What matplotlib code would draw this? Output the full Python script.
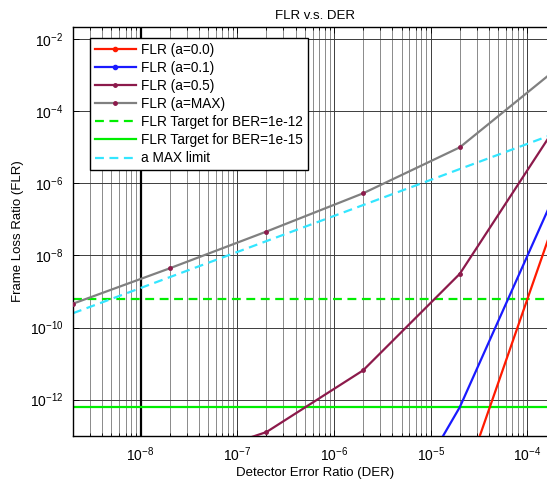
import matplotlib
matplotlib.use('Agg')
import matplotlib.pyplot as plt
from matplotlib.ticker import FixedLocator, LogLocator, LogFormatterSciNotation, NullFormatter

plt.rcParams['font.family'] = ['Liberation Sans', 'DejaVu Sans']
plt.rcParams['mathtext.fontset'] = 'custom'
plt.rcParams['mathtext.rm'] = 'Liberation Sans'
plt.rcParams['mathtext.it'] = 'Liberation Sans'

# Data
der = [2e-9, 2e-8, 2e-7, 2e-6, 2e-5, 2e-4]
flr_a00 = [None, None, None, None, 2.5e-15, 1.3e-7]
flr_a01 = [None, None, None, 1.5e-17, 6.2e-13, 6.3e-7]
flr_a05 = [None, 1.6e-14, 1.26e-13, 6.5e-12, 3.1e-9, 4.0e-5]
flr_amax = [4.6e-10, 4.4e-9, 4.6e-8, 5.3e-7, 1.0e-5, 1.5e-3]
limit_x = [2e-9, 2e-4]
limit_y = [2.5e-10, 2.5e-5]
target_1e12 = 6.2e-10
target_1e15 = 6.2e-13

maroon = '#8c1a4b'


def pts(ys):
    xs = [x for x, y in zip(der, ys) if y is not None]
    return xs, [y for y in ys if y is not None]


fig = plt.figure(figsize=(5.47, 4.80), dpi=100)
ax = fig.add_axes([73 / 547, 1 - 435.7 / 480, (556.5 - 73) / 547, (435.7 - 27.3) / 480])
ax.set_xscale('log')
ax.set_yscale('log')

# grid
ax.set_axisbelow(True)
ax.grid(which='major', axis='both', color='#3c3c3c', lw=0.7)
ax.grid(which='minor', axis='x', color='#8a8a8a', lw=0.7)
ax.axvline(1e-8, color='black', lw=1.6, zorder=1)

x, y = pts(flr_a00)
l_red, = ax.plot(x, y, '-', color='#ff1a00', lw=1.6, marker='.', ms=6, label='FLR (a=0.0)', zorder=3)
x, y = pts(flr_a01)
l_blue, = ax.plot(x, y, '-', color='#1a1aff', lw=1.6, marker='.', ms=6, label='FLR (a=0.1)', zorder=3)
x, y = pts(flr_a05)
ax.plot(x, y, '-', color=maroon, lw=1.6, marker='.', ms=5, label='FLR (a=0.5)', zorder=3)
ax.plot(der, flr_amax, '-', color='#808080', lw=1.6, marker='.', ms=5,
        mfc=maroon, mec=maroon, label='FLR (a=MAX)', zorder=3)
ax.axhline(target_1e12, color='#00ee00', lw=1.6, ls=(0, (4, 2.5)),
           label='FLR Target for BER=1e-12', zorder=2)
ax.axhline(target_1e15, color='#00ee00', lw=1.6,
           label='FLR Target for BER=1e-15', zorder=2)
ax.plot(limit_x, limit_y, color='#33e6ff', lw=1.6, ls=(0, (4, 2.5)),
        label='a MAX limit', zorder=2)

ax.set_xlim(2e-9, 2e-4)
ax.set_ylim(1e-13, 10 ** -1.67)

ax.xaxis.set_major_locator(LogLocator(base=10, numticks=20))
ax.xaxis.set_minor_locator(LogLocator(base=10, subs=range(2, 10), numticks=20))
ax.xaxis.set_minor_formatter(NullFormatter())
ax.yaxis.set_major_locator(FixedLocator([1e-12, 1e-10, 1e-8, 1e-6, 1e-4, 1e-2]))
ax.yaxis.set_major_formatter(LogFormatterSciNotation())
ax.yaxis.set_minor_locator(FixedLocator([]))

ax.tick_params(which='both', direction='in', top=True, right=True, labelsize=10,
               colors='black', width=0.6)
ax.tick_params(which='major', length=4, pad=7)
ax.tick_params(which='minor', length=2.5)
for s in ax.spines.values():
    s.set_linewidth(1.0)

ax.set_title('FLR v.s. DER', fontsize=9.5, pad=6)
ax.set_xlabel('Detector Error Ratio (DER)', fontsize=9.5, labelpad=2)
ax.set_ylabel('Frame Loss Ratio (FLR)', fontsize=9.5, labelpad=4)

leg = ax.legend(loc='upper left', bbox_to_anchor=(90 / 547, 1 - 38 / 480),
                bbox_transform=fig.transFigure, fontsize=9.8, frameon=True,
                fancybox=False, edgecolor='black', framealpha=1,
                handlelength=3.0, handletextpad=0.4, labelspacing=0.3,
                borderpad=0.35, borderaxespad=0)
leg.get_frame().set_linewidth(1.0)

# the red and blue curves show no markers on the plot, only in the legend
l_red.set_marker('None')
l_blue.set_marker('None')

fig.savefig('out.png', dpi=100)
